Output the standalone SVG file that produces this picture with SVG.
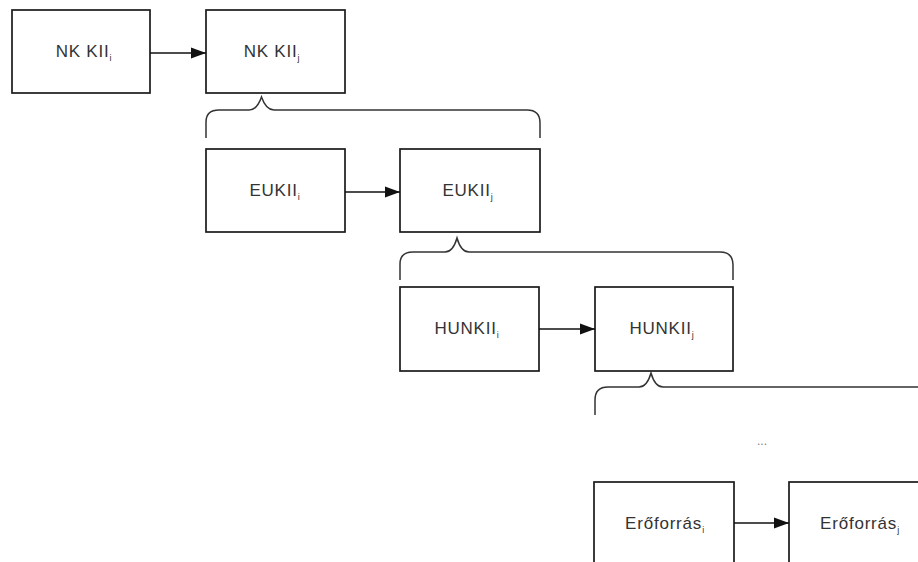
<svg xmlns="http://www.w3.org/2000/svg" width="918" height="562" viewBox="0 0 918 562">
  <style>
    .box { fill: #ffffff; stroke: #1a1a1a; stroke-width: 1.7; }
    .lbl { font-family: "Liberation Sans", Arial, sans-serif; font-size: 17px; fill: #333333; text-anchor: middle; letter-spacing: 0.8px; }
    .sub { font-size: 9px; }
    .conn { stroke: #111111; stroke-width: 1.6; fill: none; }
    .brace { stroke: #333333; stroke-width: 1.5; fill: none; }
    .dots { font-family: "Liberation Sans", Arial, sans-serif; font-size: 12px; fill: #777777; text-anchor: middle; }
  </style>
  <defs>
    <marker id="arrow" markerWidth="16" markerHeight="12" refX="15" refY="6" orient="auto" markerUnits="userSpaceOnUse">
      <path d="M0,0.5 L15,6 L0,11.5 Z" fill="#111111"/>
    </marker>
  </defs>
  <rect width="918" height="562" fill="#ffffff"/>

  <!-- level 1 -->
  <g id="nk-kii-i">
    <rect class="box" x="12" y="10" width="138" height="83"/>
    <text class="lbl" x="84" y="57">NK KII<tspan class="sub" dy="4">i</tspan></text>
  </g>
  <g id="nk-kii-j">
    <rect class="box" x="206" y="10" width="139" height="83"/>
    <text class="lbl" x="272" y="57">NK KII<tspan class="sub" dy="4">j</tspan></text>
  </g>

  <!-- level 2 -->
  <g id="eukii-i">
    <rect class="box" x="206" y="149" width="139" height="83"/>
    <text class="lbl" x="275" y="196">EUKII<tspan class="sub" dy="4">i</tspan></text>
  </g>
  <g id="eukii-j">
    <rect class="box" x="400" y="149" width="140" height="83"/>
    <text class="lbl" x="468" y="196">EUKII<tspan class="sub" dy="4">j</tspan></text>
  </g>

  <!-- level 3 -->
  <g id="hunkii-i">
    <rect class="box" x="400" y="287" width="139" height="84"/>
    <text class="lbl" x="467" y="334">HUNKII<tspan class="sub" dy="4">i</tspan></text>
  </g>
  <g id="hunkii-j">
    <rect class="box" x="595" y="287" width="138" height="84"/>
    <text class="lbl" x="662" y="334">HUNKII<tspan class="sub" dy="4">j</tspan></text>
  </g>

  <!-- continuation -->
  <g id="ellipsis">
    <text class="dots" x="762" y="445">...</text>
  </g>

  <!-- level n -->
  <g id="eroforras-i">
    <rect class="box" x="594" y="482" width="140" height="84"/>
    <text class="lbl" x="665" y="529">Erőforrás<tspan class="sub" dy="4">i</tspan></text>
  </g>
  <g id="eroforras-j">
    <rect class="box" x="789" y="482" width="140" height="84"/>
    <text class="lbl" x="860" y="529">Erőforrás<tspan class="sub" dy="4">j</tspan></text>
  </g>

  <g id="connectors">
    <line class="conn" x1="150" y1="53" x2="206" y2="53" marker-end="url(#arrow)"/>
    <line class="conn" x1="345" y1="192" x2="400" y2="192" marker-end="url(#arrow)"/>
    <line class="conn" x1="539" y1="329" x2="595" y2="329" marker-end="url(#arrow)"/>
    <line class="conn" x1="734" y1="523" x2="789" y2="523" marker-end="url(#arrow)"/>

    <!-- braces grouping each refinement level -->
    <path class="brace" d="M206,138 V122 Q206,110 219,110 H249 Q257,110 261.5,97 Q266,110 274,110 H527 Q540,110 540,123 V138"/>
    <path class="brace" d="M400,280 V264 Q400,252 413,252 H445 Q453,252 457,238 Q461,252 469,252 H720 Q733,252 733,265 V280"/>
    <path class="brace" d="M595,415 V400 Q595,387 608,387 H639 Q647,387 651,373 Q655,387 663,387 H918"/>
  </g>
</svg>
